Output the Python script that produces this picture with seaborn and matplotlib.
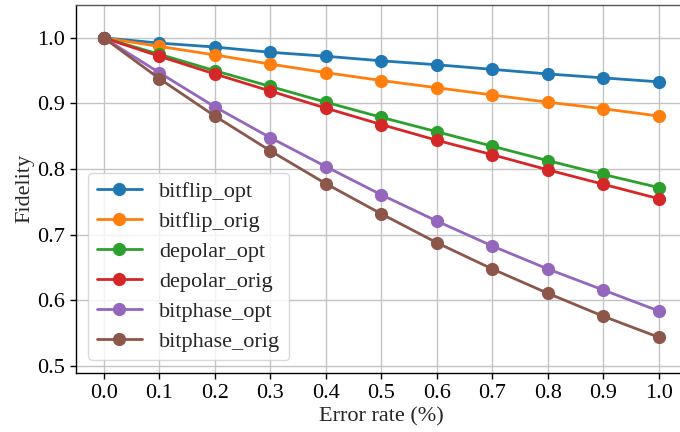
import matplotlib
matplotlib.use("Agg")
import matplotlib.pyplot as plt
import seaborn as sns
import pandas as pd

error_rate = [0.0, 0.1, 0.2, 0.3, 0.4, 0.5, 0.6, 0.7, 0.8, 0.9, 1.0]
bitflip_opt = [1.0, 0.992, 0.986, 0.978, 0.972, 0.965, 0.959, 0.952, 0.945, 0.939, 0.933]
bitflip_orig = [1.0, 0.987, 0.974, 0.960, 0.947, 0.935, 0.924, 0.913, 0.902, 0.892, 0.881]
depolar_opt = [1.0, 0.975, 0.950, 0.926, 0.902, 0.879, 0.857, 0.835, 0.813, 0.792, 0.772]
depolar_orig = [1.0, 0.972, 0.945, 0.919, 0.893, 0.868, 0.844, 0.822, 0.799, 0.777, 0.755]
bitphase_opt = [1.0, 0.947, 0.895, 0.848, 0.804, 0.761, 0.721, 0.683, 0.648, 0.616, 0.584]
bitphase_orig = [1.0, 0.938, 0.881, 0.828, 0.778, 0.732, 0.688, 0.648, 0.611, 0.576, 0.544]

series = {
    "bitflip_opt": bitflip_opt,
    "bitflip_orig": bitflip_orig,
    "depolar_opt": depolar_opt,
    "depolar_orig": depolar_orig,
    "bitphase_opt": bitphase_opt,
    "bitphase_orig": bitphase_orig,
}
rows = []
for name, vals in series.items():
    for x, v in zip(error_rate, vals):
        rows.append({"Error rate": x, "Fidelity": v, "series": name})
df = pd.DataFrame(rows)

sns.set_theme(style="ticks")
plt.rcParams["font.family"] = ["Liberation Serif", "DejaVu Serif"]

fig = plt.figure(figsize=(6.8, 4.32), dpi=100)
W, H = 680, 432
ax = fig.add_axes([76 / W, 1 - 372.7 / H, (686.5 - 76) / W, (372.7 - 5) / H])

sns.lineplot(data=df, x="Error rate", y="Fidelity", hue="series",
             palette="tab10", marker="o", markersize=9.5, markeredgewidth=0,
             linewidth=2, dashes=False, ax=ax, legend=True)

ax.set_xlim(-0.05, 1.05)
ax.set_ylim(0.49, 1.05)
ax.set_xticks(error_rate)
ax.set_xticklabels([f"{v:.1f}" for v in error_rate])
ax.set_yticks([0.5, 0.6, 0.7, 0.8, 0.9, 1.0])
ax.set_yticklabels(["0.5", "0.6", "0.7", "0.8", "0.9", "1.0"])
ax.grid(True, color="#c4c4c4", linewidth=1.0)
ax.set_axisbelow(True)
for s in ["left", "bottom"]:
    ax.spines[s].set_color("black")
    ax.spines[s].set_linewidth(1.0)
ax.spines["top"].set_color("#555555")
ax.spines["top"].set_linewidth(1.0)
ax.spines["right"].set_color("black")
ax.tick_params(axis="both", labelsize=16, length=4, width=1, color="black", labelcolor="black", pad=4)
ax.set_xlabel("Error rate (%)", fontsize=16, labelpad=3)
ax.set_ylabel("Fidelity", fontsize=16, labelpad=2)

leg = ax.legend(loc="lower left", fontsize=16, frameon=True, fancybox=True,
                framealpha=0.8, borderaxespad=0.55, handlelength=2.0,
                labelspacing=0.42, handletextpad=0.8)
leg.get_frame().set_edgecolor("#d0d0d0")

fig.savefig("out.png", dpi=100)
